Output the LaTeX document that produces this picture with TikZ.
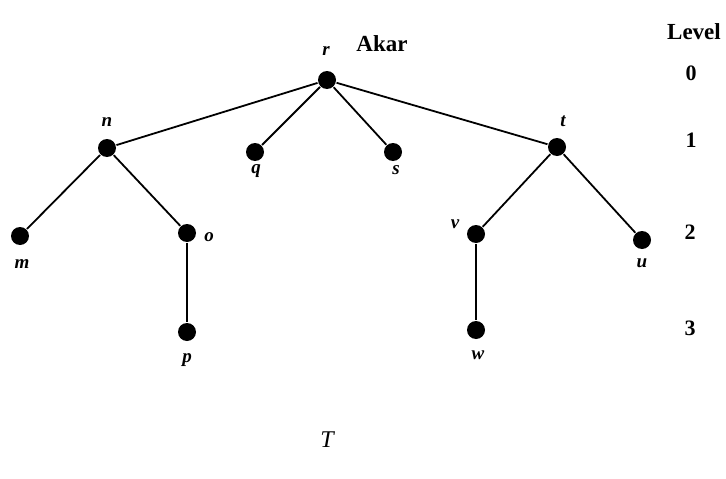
\documentclass[tikz,border=0pt]{standalone}
\usepackage{fontspec}
\setmainfont{Liberation Serif}
\usetikzlibrary{positioning}
\begin{document}
\begin{tikzpicture}[
  x=1pt, y=-1pt, line width=1.8pt,
  vtx/.style={circle, fill=black, inner sep=0pt, minimum size=18pt},
  lbl/.style={inner sep=1pt, font=\fontsize{19}{22}\selectfont\bfseries\itshape},
  lvl/.style={inner sep=1pt, font=\fontsize{22}{24}\selectfont\bfseries}
]
  \useasboundingbox (0,0) rectangle (726,479);
  % vertices
  \node[vtx] (r) at (327,80) {};
  \node[vtx] (n) at (107,148) {};
  \node[vtx] (q) at (255,152) {};
  \node[vtx] (s) at (393,152) {};
  \node[vtx] (t) at (557,147) {};
  \node[vtx] (m) at (20,236) {};
  \node[vtx] (o) at (187,233) {};
  \node[vtx] (v) at (476,234) {};
  \node[vtx] (u) at (642,240) {};
  \node[vtx] (p) at (187,332) {};
  \node[vtx] (w) at (476,330) {};
  % edges
  \draw (r) -- (n);
  \draw (r) -- (q);
  \draw (r) -- (s);
  \draw (r) -- (t);
  \draw (n) -- (m);
  \draw (n) -- (o);
  \draw (o) -- (p);
  \draw (t) -- (v);
  \draw (t) -- (u);
  \draw (v) -- (w);
  % vertex labels
  \node[lbl] (lr) at (326,51) {r};
  \node[lvl, font=\fontsize{23}{24}\selectfont\bfseries] (akar) at (382,44) {Akar};
  \node[lbl] (ln) at (107,122) {n};
  \node[lbl] (lq) at (256,171) {q};
  \node[lbl] (ls) at (396,170) {s};
  \node[lbl] (lt) at (563,121) {t};
  \node[lbl] (lm) at (22,264) {m};
  \node[lbl] (lo) at (209,237) {o};
  \node[lbl] (lv) at (455,224) {v};
  \node[lbl] (lu) at (642,263) {u};
  \node[lbl] (lp) at (187,360) {p};
  \node[lbl] (lw) at (478,355) {w};
  % levels
  \node[lvl, font=\fontsize{23}{24}\selectfont\bfseries] (level) at (694,32) {Level};
  \node[lvl] (l0) at (691,73) {0};
  \node[lvl] (l1) at (691,140) {1};
  \node[lvl] (l2) at (690,232) {2};
  \node[lvl] (l3) at (690,328) {3};
  \node[inner sep=1pt, font=\fontsize{24}{26}\selectfont\itshape] (tname) at (327,440) {T};
\end{tikzpicture}
\end{document}
